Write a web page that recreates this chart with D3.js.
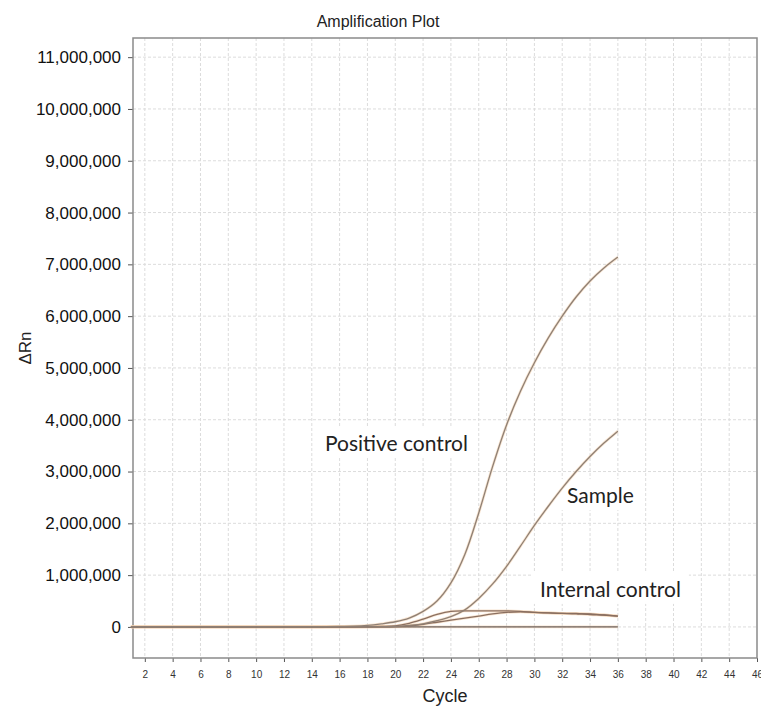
<!DOCTYPE html>
<html lang="en">
<head>
  <meta charset="utf-8"/>
  <title>Amplification Plot</title>
  <script src="https://d3js.org/d3.v7.min.js"></script>
  <style>
    body{margin:0;background:#ffffff;}
    svg{display:block;font-family:"Liberation Sans",Arial,sans-serif;}
    .grid line{stroke:#dcdcdc;stroke-dasharray:3,2;stroke-width:1;}
    .axis path{display:none;}
    .axis line{stroke:#555;}
  </style>
</head>
<body>
<svg id="chart"></svg>
<script>
// Data (ΔRn in millions)
const cycles = [1,2,3,4,5,6,7,8,9,10,11,12,13,14,15,16,17,18,19,20,21,22,23,24,25,26,27,28,29,30,31,32,33,34,35,36];

const positiveControl = [0,0,0,0,0,0,0,0,0,0,0,0,0,0,0.005,0.01,0.015,0.03,0.06,0.1,0.17,0.3,0.5,0.85,1.4,2.2,3.1,3.9,4.55,5.1,5.58,6.0,6.37,6.68,6.93,7.14];
const sample          = [0,0,0,0,0,0,0,0,0,0,0,0,0,0,0,0,0,0,0.005,0.01,0.03,0.06,0.12,0.2,0.33,0.55,0.83,1.17,1.56,1.96,2.33,2.68,3.0,3.29,3.55,3.78];
const internalUpper   = [0,0,0,0,0,0,0,0,0,0,0,0,0,0,0,0,0,0.005,0.01,0.02,0.07,0.15,0.24,0.3,0.31,0.31,0.31,0.31,0.3,0.28,0.27,0.26,0.25,0.25,0.23,0.21];
const internalLower   = [0,0,0,0,0,0,0,0,0,0,0,0,0,0,0,0,0,0,0,0.005,0.02,0.05,0.09,0.13,0.17,0.21,0.25,0.28,0.29,0.28,0.27,0.26,0.26,0.24,0.23,0.21];
const noTemplate      = [0,0,0,0,0,0,0,0,0,0,0,0,0,0,0,0,0,0,0,0,0,0,0,0,0,0,0,0,0,0,0,0,0,0,0,0];

const xTicks = [2,4,6,8,10,12,14,16,18,20,22,24,26,28,30,32,34,36,38,40,42,44,46];
const yTicks = [0,1000000,2000000,3000000,4000000,5000000,6000000,7000000,8000000,9000000,10000000,11000000];

const labels = [
  {text: 'Positive control', cycle: 14.95, value: 3.4},
  {text: 'Sample',           cycle: 32.35, value: 2.39},
  {text: 'Internal control', cycle: 30.4,  value: 0.58}
];

// Layout
const W = 761, H = 707;
const plot = {left: 133, right: 757, top: 38, bottom: 658};

const svg = d3.select('#chart').attr('width', W).attr('height', H);
svg.append('rect').attr('width', W).attr('height', H).attr('fill', '#fff');

const x = d3.scaleLinear().domain([1.15, 46]).range([plot.left, plot.right]);
const y = d3.scaleLinear().domain([-600000, 11370000]).range([plot.bottom, plot.top]);

// grid
const grid = svg.append('g').attr('class', 'grid');
grid.selectAll('.gx').data(xTicks.filter(d => d < 46)).enter().append('line')
  .attr('x1', d => x(d)).attr('x2', d => x(d))
  .attr('y1', plot.top).attr('y2', plot.bottom);
grid.selectAll('.gy').data(yTicks).enter().append('line')
  .attr('x1', plot.left).attr('x2', plot.right)
  .attr('y1', d => y(d)).attr('y2', d => y(d));

// white boxes behind the annotations (filled in once the texts are measured)
const boxG = svg.append('g');

// axes
const yAxis = svg.append('g').attr('class', 'axis')
  .attr('transform', `translate(${plot.left},0)`)
  .call(d3.axisLeft(y).tickValues(yTicks).tickSize(5).tickPadding(7).tickFormat(d3.format(',')));
yAxis.selectAll('text').attr('font-size', 17).attr('fill', '#111');

const xAxis = svg.append('g').attr('class', 'axis')
  .attr('transform', `translate(0,${plot.bottom})`)
  .call(d3.axisBottom(x).tickValues(xTicks).tickSize(4).tickPadding(9));
xAxis.selectAll('text').attr('font-size', 10).attr('fill', '#333');

// frame
svg.append('rect')
  .attr('x', plot.left).attr('y', plot.top)
  .attr('width', plot.right - plot.left).attr('height', plot.bottom - plot.top)
  .attr('fill', 'none').attr('stroke', '#8a8a8a').attr('stroke-width', 1.5);

// curves
const line = d3.line()
  .x((d, i) => x(cycles[i]))
  .y(d => y(d * 1e6))
  .curve(d3.curveCatmullRom.alpha(0.5));

const curves = [
  {values: noTemplate,      color: '#6f6560'},
  {values: internalLower,   color: '#8a6f60'},
  {values: internalUpper,   color: '#8a6f60'},
  {values: sample,          color: '#8f8075'},
  {values: positiveControl, color: '#8f8075'}
];

const curveG = svg.append('g');
curveG.selectAll('.halo').data(curves).enter().append('path')
  .attr('fill', 'none').attr('stroke', '#f4d2b0').attr('stroke-width', 2.8).attr('opacity', 0.6)
  .attr('d', d => line(d.values));
curveG.selectAll('.curve').data(curves).enter().append('path')
  .attr('fill', 'none').attr('stroke', d => d.color).attr('stroke-width', 1.3)
  .attr('d', d => line(d.values));

// annotations
const ann = svg.append('g');
labels.forEach(l => {
  const t = ann.append('text')
    .attr('x', x(l.cycle)).attr('y', y(l.value * 1e6))
    .attr('font-family', 'Lato, "Noto Sans", sans-serif')
    .attr('font-size', 21).attr('fill', '#222')
    .text(l.text);
  const b = t.node().getBBox();
  boxG.append('rect')
    .attr('x', b.x - 8).attr('y', b.y - 3)
    .attr('width', b.width + 16).attr('height', b.height + 6)
    .attr('fill', '#fff');
});

// titles
svg.append('text')
  .attr('x', 378).attr('y', 27).attr('text-anchor', 'middle')
  .attr('font-size', 16).attr('fill', '#222')
  .text('Amplification Plot');

svg.append('text')
  .attr('x', (plot.left + plot.right) / 2).attr('y', 702).attr('text-anchor', 'middle')
  .attr('font-size', 18).attr('fill', '#222')
  .text('Cycle');

svg.append('text')
  .attr('transform', 'translate(31,348) rotate(-90)').attr('text-anchor', 'middle')
  .attr('font-size', 17).attr('fill', '#222')
  .text('ΔRn');
</script>
</body>
</html>
